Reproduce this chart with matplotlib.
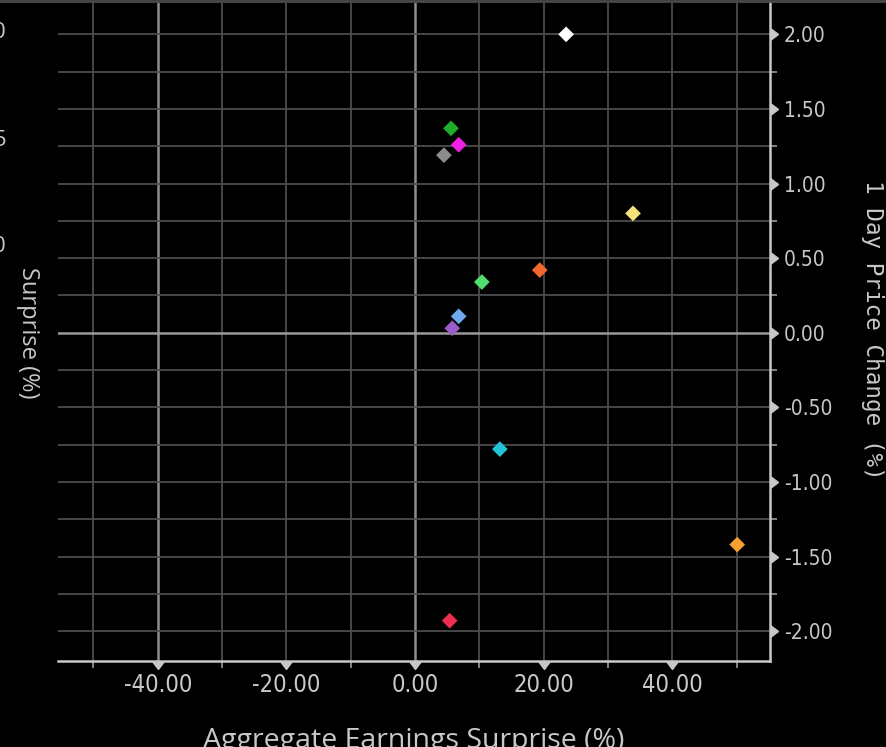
import numpy as np
import matplotlib
matplotlib.use("Agg")
import matplotlib.pyplot as plt
from matplotlib.ticker import FixedLocator, FormatStrFormatter
plt.rcParams['axes.unicode_minus'] = False

# data
surprise = [23.5, 5.6, 6.8, 4.5, 33.9, 19.4, 10.4, 6.8, 5.8, 13.2, 50.1, 5.4]
price_chg = [2.00, 1.37, 1.26, 1.19, 0.80, 0.42, 0.34, 0.11, 0.03, -0.78, -1.42, -1.93]
colors = ['#ffffff', '#1fae2a', '#f020e8', '#8c8c8c', '#f4e27a', '#f0682e',
          '#52dc6c', '#6ea8ee', '#9a5cc8', '#20c4d6', '#f4a032', '#ee3050']

x_major = [-40, -20, 0, 20, 40]
x_minor = [-50, -30, -10, 10, 30, 50]
y_major = [-2.0, -1.5, -1.0, -0.5, 0.0, 0.5, 1.0, 1.5, 2.0]
y_minor = [-1.75, -1.25, -0.75, -0.25, 0.25, 0.75, 1.25, 1.75]
left_frag = ['0', '5', '0']

fg = '#c8c8c8'
fig = plt.figure(figsize=(8.87, 7.47), dpi=100, facecolor='black')
ax = fig.add_axes([58/887, 86/747, 712/887, 658/747], facecolor='black')

ax.set_xlim(-55.5, 55.2)
ax.set_ylim(-2.20, 2.21)

# grid
for v in x_major + x_minor:
    if v in (0, -40):
        ax.axvline(v, color='#8e8e8e', lw=1.8, zorder=1)
    else:
        ax.axvline(v, color='#4c4c4c', lw=1.3, zorder=1)
for v in y_major + y_minor:
    if v == 0:
        ax.axhline(v, color='#9a9a9a', lw=1.8, zorder=1)
    else:
        ax.axhline(v, color='#4c4c4c', lw=1.3, zorder=1)

ax.scatter(surprise, price_chg, marker='D', s=64, c=colors, edgecolors='none', zorder=3)

for s in ['top', 'left']:
    ax.spines[s].set_visible(False)
for s in ['bottom', 'right']:
    ax.spines[s].set_color(fg)
    ax.spines[s].set_linewidth(1.8)

ax.yaxis.tick_right()
ax.xaxis.set_major_locator(FixedLocator(x_major))
ax.xaxis.set_minor_locator(FixedLocator(x_minor))
ax.yaxis.set_major_locator(FixedLocator(y_major))
ax.yaxis.set_minor_locator(FixedLocator(y_minor))
ax.xaxis.set_major_formatter(FormatStrFormatter('%.2f'))
ax.yaxis.set_major_formatter(FormatStrFormatter('%.2f'))
ax.tick_params(which='major', length=0, colors=fg)
ax.tick_params(axis='x', which='major', pad=9, labelsize=17)
ax.tick_params(axis='y', which='major', pad=10, labelsize=15)
ax.tick_params(which='minor', length=5, width=1.2, color='#9a9a9a')
for lab in ax.get_xticklabels() + ax.get_yticklabels():
    lab.set_fontfamily('DejaVu Sans')
    lab.set_fontstretch('condensed')

# triangle tick marks
ax.plot(x_major, [0]*len(x_major), transform=ax.get_xaxis_transform(),
        ls='none', marker=11, ms=8, color=fg, clip_on=False, zorder=5)
ax.plot([1]*len(y_major), y_major, transform=ax.get_yaxis_transform(),
        ls='none', marker=9, ms=8, color=fg, clip_on=False, zorder=5)

fig.text(873/887, 1 - 330/747, '1 Day Price Change (%)', rotation=270, color=fg,
         fontsize=16.3, family='DejaVu Sans Mono', ha='center', va='center')
fig.text(414/887, 1 - 748/747, 'Aggregate Earnings Surprise (%)', color=fg,
         fontsize=20.5, family='Open Sans', ha='center', va='baseline')
fig.text(28/887, 1 - 333/747, 'Surprise (%)', color=fg, fontsize=17,
         family='Open Sans', rotation=270, ha='center', va='center')
for lab, yp in zip(left_frag, [33, 140, 247]):
    fig.text(6/887, 1 - yp/747, lab, color=fg, fontsize=16, family='Open Sans',
             ha='right', va='center')

fig.add_artist(plt.Line2D([0, 1], [0.999, 0.999], color='#4a4a4a', lw=2))

fig.savefig('out.png', dpi=100, facecolor='black')
